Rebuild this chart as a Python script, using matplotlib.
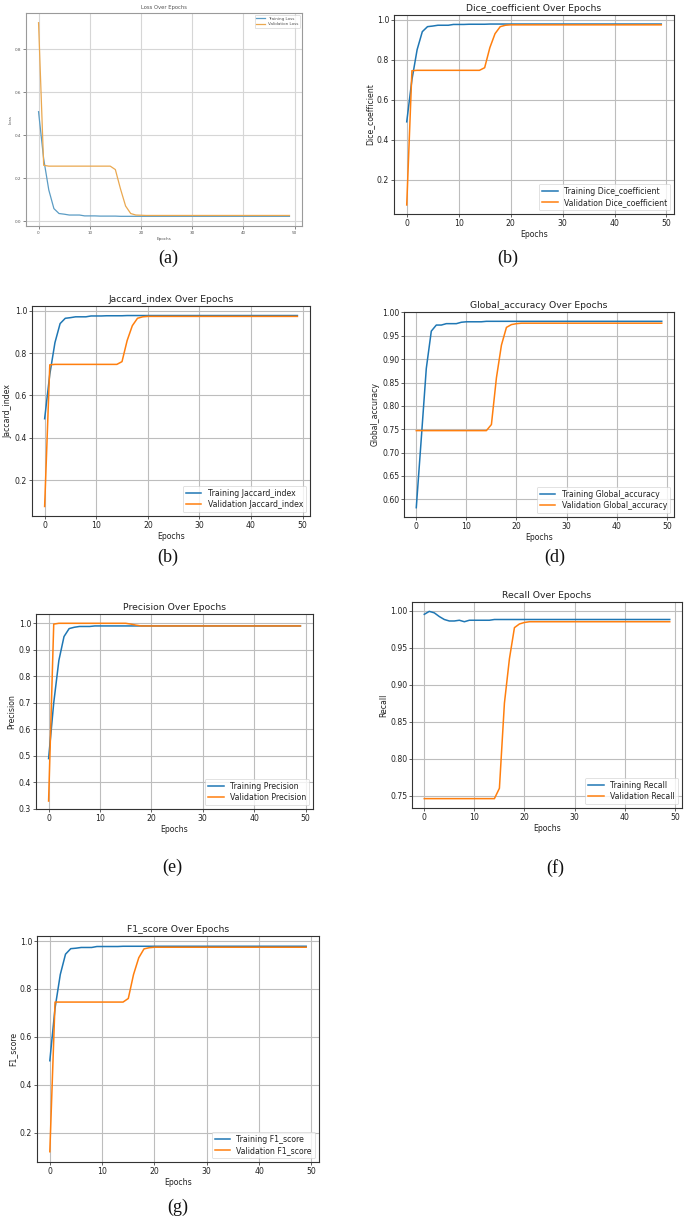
import matplotlib
matplotlib.use("Agg")
import matplotlib.pyplot as plt
import numpy as np

W, H = 685, 1218
epochs = list(range(50))

loss_train = [0.51, 0.29, 0.145, 0.058, 0.035, 0.032, 0.028, 0.028, 0.028, 0.024,
              0.024, 0.024, 0.023, 0.023, 0.023, 0.023, 0.022, 0.022, 0.022, 0.022] + [0.022] * 30
loss_val = [0.925, 0.26, 0.256, 0.256, 0.256, 0.256, 0.256, 0.256, 0.256, 0.256,
            0.256, 0.256, 0.256, 0.256, 0.256, 0.24, 0.15, 0.07, 0.035, 0.028,
            0.027] + [0.026] * 29

dice_train = [0.49, 0.70, 0.85, 0.94, 0.965, 0.968, 0.972, 0.972, 0.972, 0.976,
              0.976, 0.976, 0.977, 0.977, 0.977, 0.977, 0.978, 0.978, 0.978, 0.978] + [0.978] * 30
dice_val = [0.075, 0.745, 0.747, 0.747, 0.747, 0.747, 0.747, 0.747, 0.747, 0.747,
            0.747, 0.747, 0.747, 0.747, 0.747, 0.76, 0.86, 0.93, 0.965, 0.972,
            0.974] + [0.974] * 29

jac_train = [0.49, 0.70, 0.85, 0.94, 0.965, 0.968, 0.972, 0.972, 0.972, 0.976,
             0.976, 0.976, 0.977, 0.977, 0.977, 0.977, 0.978, 0.978, 0.978, 0.978] + [0.978] * 30
jac_val = [0.075, 0.745, 0.747, 0.747, 0.747, 0.747, 0.747, 0.747, 0.747, 0.747,
           0.747, 0.747, 0.747, 0.747, 0.747, 0.76, 0.86, 0.93, 0.965, 0.972,
           0.974] + [0.974] * 29

acc_train = [0.582, 0.73, 0.88, 0.96, 0.973, 0.973, 0.976, 0.976, 0.976, 0.979,
             0.98, 0.98, 0.98, 0.98, 0.981, 0.981, 0.981, 0.981, 0.981, 0.981] + [0.981] * 30
acc_val = [0.747, 0.747, 0.747, 0.747, 0.747, 0.747, 0.747, 0.747, 0.747, 0.747,
           0.747, 0.747, 0.747, 0.747, 0.747, 0.76, 0.86, 0.93, 0.968, 0.974,
           0.976] + [0.977] * 29

prec_train = [0.49, 0.70, 0.86, 0.95, 0.98, 0.985, 0.988, 0.988, 0.988, 0.99,
              0.99, 0.99, 0.99, 0.99, 0.99, 0.99, 0.99, 0.99, 0.99, 0.99] + [0.99] * 30
prec_val = [0.33, 0.997, 1.0, 1.0, 1.0, 1.0, 1.0, 1.0, 1.0, 1.0,
            1.0, 1.0, 1.0, 1.0, 1.0, 1.0, 0.997, 0.993, 0.99, 0.99] + [0.99] * 30

rec_train = [0.995, 0.999, 0.997, 0.992, 0.988, 0.986, 0.986, 0.987, 0.985, 0.987,
             0.987, 0.987, 0.987, 0.987, 0.988, 0.988, 0.988, 0.988, 0.988, 0.988] + [0.988] * 30
rec_val = [0.746, 0.746, 0.746, 0.746, 0.746, 0.746, 0.746, 0.746, 0.746, 0.746,
           0.746, 0.746, 0.746, 0.746, 0.746, 0.76, 0.875, 0.935, 0.977, 0.982,
           0.984] + [0.985] * 29

f1_train = [0.50, 0.72, 0.86, 0.945, 0.968, 0.97, 0.973, 0.973, 0.973, 0.977,
            0.977, 0.977, 0.977, 0.977, 0.978, 0.978, 0.978, 0.978, 0.978, 0.978] + [0.978] * 30
f1_val = [0.12, 0.745, 0.745, 0.745, 0.745, 0.745, 0.745, 0.745, 0.745, 0.745,
          0.745, 0.745, 0.745, 0.745, 0.745, 0.76, 0.86, 0.93, 0.967, 0.972,
          0.974] + [0.974] * 29

fig = plt.figure(figsize=(W / 100, H / 100), dpi=100)


def ax_at(l, t, r, b):
    return fig.add_axes([l / W, 1 - b / H, (r - l) / W, (b - t) / H])


def panel(box, train, val, name, title, ylabel, fs=5.6, tfs=6.7, lw=1.1,
          c1='#1f77b4', c2='#ff7f0e', loc='lower right', spine='#333333',
          grid='#bdbdbd', tc='#222222'):
    ax = ax_at(*box)
    ax.plot(epochs, train, color=c1, lw=lw, label=f'Training {name}')
    ax.plot(epochs, val, color=c2, lw=lw, label=f'Validation {name}')
    ax.set_title(title, fontsize=tfs, pad=3, color=tc)
    ax.set_xlabel('Epochs', fontsize=fs, labelpad=1.5, color=tc)
    ax.set_ylabel(ylabel, fontsize=fs, labelpad=1.5, color=tc)
    ax.tick_params(labelsize=fs, length=2, width=0.5, pad=1.5, colors=tc)
    ax.set_xticks([0, 10, 20, 30, 40, 50])
    ax.grid(True, color=grid, lw=0.8)
    for s in ax.spines.values():
        s.set_color(spine)
        s.set_linewidth(0.8)
    leg = ax.legend(loc=loc, fontsize=fs, handlelength=2.0, borderpad=0.4,
                    labelspacing=0.3, framealpha=0.8)
    leg.get_frame().set_linewidth(0.5)
    for t in leg.get_texts():
        t.set_color(tc)
    return ax


# (a) Loss - small, faint
axa = panel((26, 13, 302, 226), loss_train, loss_val, 'Loss', 'Loss Over Epochs', 'Loss',
            fs=3.0, tfs=3.8, lw=0.9, c1='#5b9cc4', c2='#eaa850', loc='upper right',
            spine='#9a9a9a', grid='#d6d6d6', tc='#555555')
axa.set_yticks([0.0, 0.2, 0.4, 0.6, 0.8])

panel((394, 15, 674, 214), dice_train, dice_val, 'Dice_coefficient',
      'Dice_coefficient Over Epochs', 'Dice_coefficient')
panel((32, 306, 310, 516), jac_train, jac_val, 'Jaccard_index',
      'Jaccard_index Over Epochs', 'Jaccard_index')
axd = panel((404, 312, 674, 517), acc_train, acc_val, 'Global_accuracy',
            'Global_accuracy Over Epochs', 'Global_accuracy')
axe = panel((36, 614, 313, 809), prec_train, prec_val, 'Precision',
            'Precision Over Epochs', 'Precision')
axe.set_ylim(0.3, 1.035)
axf = panel((412, 602, 682, 808), rec_train, rec_val, 'Recall',
            'Recall Over Epochs', 'Recall')
panel((37, 936, 319, 1162), f1_train, f1_val, 'F1_score',
      'F1_score Over Epochs', 'F1_score')

captions = [('(a)', 168, 258), ('(b)', 508, 258), ('(b)', 168, 557), ('(d)', 555, 557),
            ('(e)', 172, 867), ('(f)', 555, 868), ('(g)', 178, 1207)]
for txt, x, y in captions:
    fig.text(x / W, 1 - y / H, txt, ha='center', va='center', fontsize=13,
             family='Liberation Serif', color='#111111')

fig.savefig('out.png', dpi=100)
